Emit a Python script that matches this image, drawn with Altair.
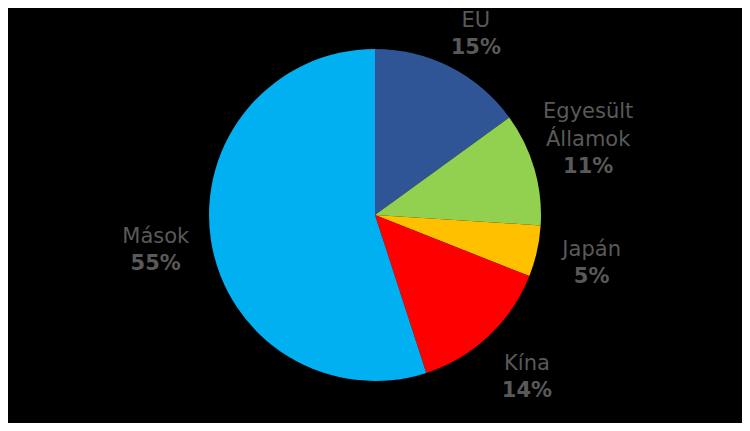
import altair as alt
import pandas as pd

categories = ["EU", "Egyesült Államok", "Japán", "Kína", "Mások"]
name_line1 = ["", "Egyesült", "", "", ""]
name_line2 = ["EU", "Államok", "Japán", "Kína", "Mások"]
values = [15, 11, 5, 14, 55]
colors = ["#2F5597", "#92D050", "#FFC000", "#FF0000", "#00B0F0"]

df = pd.DataFrame({
    "cat": categories,
    "l1": name_line1,
    "l2": name_line2,
    "val": values,
    "order": list(range(len(categories))),
    "pct": [f"{v}%" for v in values],
})

cx, cy = 367, 207
R_LABEL = 222
Y_MIN = 26

pie = alt.Chart(df).mark_arc(outerRadius=166, stroke=None).encode(
    theta=alt.Theta("val:Q", stack=True),
    order=alt.Order("order:Q"),
    x=alt.value(cx),
    y=alt.value(cy),
    color=alt.Color("cat:N", scale=alt.Scale(domain=categories, range=colors), legend=None),
)

lab = alt.Chart(df).transform_window(
    cum="sum(val)", sort=[alt.SortField("order")], frame=[None, 0]
).transform_joinaggregate(
    total="sum(val)"
).transform_calculate(
    mid="(datum.cum - datum.val / 2) / datum.total * 2 * PI"
).transform_calculate(
    lx=f"{cx} + {R_LABEL} * sin(datum.mid)",
    ly=f"max({cy} - {R_LABEL} * cos(datum.mid), {Y_MIN})",
).encode(
    x=alt.X("lx:Q", scale=None, axis=None),
    y=alt.Y("ly:Q", scale=None, axis=None),
)

style = dict(font="DejaVu Sans", fontSize=21, color="#595959", baseline="middle", align="center")

line1 = lab.mark_text(dy=-41, **style).encode(text="l1:N")
line2 = lab.mark_text(dy=-13, **style).encode(text="l2:N")
pcts = lab.mark_text(dy=14, fontWeight="bold", **style).encode(text="pct:N")

chart = alt.layer(pie, line1, line2, pcts).properties(
    width=734, height=415, padding=0,
    autosize=alt.AutoSizeParams(type="none"),
    background="#000000",
).configure_view(stroke=None)

chart.save("out.html", embed_options={"renderer": "svg", "actions": False})
